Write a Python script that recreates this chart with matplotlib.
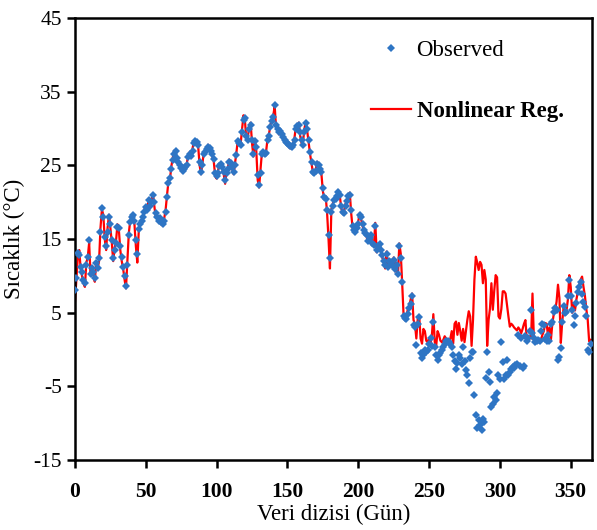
import matplotlib
matplotlib.use("Agg")
import matplotlib.pyplot as plt
from matplotlib.lines import Line2D

plt.rcParams['font.family'] = ['Liberation Serif', 'DejaVu Serif']
plt.rcParams['axes.unicode_minus'] = False

observed = [
    8.1, 9.7, 13.1, 12.9, 11.2, 10.5, 9.5, 9.0, 11.5, 12.6,
    14.9, 10.3, 11.0, 10.5, 9.7, 11.7, 11.0, 12.4, 16.0, 19.2,
    18.0, 15.3, 14.0, 16.0, 18.0, 17.0, 14.9, 12.4, 13.5, 14.5,
    16.7, 16.5, 14.0, 12.5, 11.2, 10.0, 8.6, 11.5, 15.5, 17.3,
    18.0, 18.3, 17.5, 14.9, 13.0, 16.4, 17.0, 17.5, 18.0, 18.7,
    19.3, 19.0, 20.3, 19.5, 20.0, 21.0, 20.0, 18.5, 18.0, 17.5,
    17.8, 17.3, 17.0, 17.5, 18.7, 20.7, 22.6, 23.3, 24.5, 25.7,
    26.5, 27.0, 26.0, 25.5, 25.0, 24.6, 24.3, 24.5, 24.8, 25.0,
    26.2, 26.5, 26.3, 27.0, 28.0, 28.3, 28.2, 27.8, 25.5, 24.1,
    25.0, 26.5, 26.8, 27.2, 27.5, 27.3, 27.0, 26.5, 25.9, 23.9,
    23.5, 24.0, 24.9, 25.2, 24.8, 24.1, 23.0, 24.0, 24.5, 25.5,
    25.3, 24.8, 24.1, 25.0, 26.4, 28.3, 28.0, 27.8, 29.5, 31.2,
    31.4, 29.0, 28.5, 30.0, 30.5, 28.5, 26.6, 28.3, 27.5, 23.7,
    22.3, 24.0, 26.5, 26.8, 26.5, 26.7, 28.4, 29.0, 30.2, 31.0,
    31.5, 33.2, 30.5, 30.0, 29.5, 29.6, 29.2, 28.9, 28.5, 28.2,
    28.0, 27.7, 27.6, 27.5, 27.8, 28.5, 30.0, 30.3, 30.5, 29.5,
    28.5, 27.8, 29.5, 30.7, 30.0, 28.5, 26.8, 25.5, 24.1, 24.0,
    24.2, 25.2, 25.0, 24.5, 24.1, 21.9, 20.7, 20.5, 18.9, 15.5,
    12.4, 18.7, 19.5, 20.3, 20.5, 20.8, 21.4, 21.0, 19.5, 18.7,
    18.5, 19.5, 20.2, 20.8, 21.0, 19.0, 16.8, 16.2, 16.0, 16.5,
    17.1, 18.3, 18.0, 17.0, 16.2, 15.8, 15.5, 14.8, 15.2, 15.5,
    14.5, 14.2, 16.8, 13.5, 14.0, 14.3, 13.5, 12.8, 12.0, 11.5,
    13.0, 11.2, 12.0, 11.9, 11.5, 12.2, 10.9, 11.5, 10.3, 14.0,
    12.4, 9.2, 4.5, 4.3, 4.1, 4.8, 5.6, 6.2, 7.2, 3.3,
    3.0, 0.6, 3.5, 4.4, -0.5, -1.2, -0.8, -0.1, -0.3, -0.1,
    0.8, 1.6, 0.5, 3.8, 0.4, -0.8, -1.4, -0.8, -0.5, -0.1,
    0.3, 0.8, 1.1, 1.2, 1.0, 0.8, 0.4, -0.8, -1.6, -2.6,
    -1.8, -0.8, -1.2, -1.9, 0.4, -1.5, -2.8, -3.5, -4.5, -1.2,
    -0.3, -0.3, -6.2, -8.9, -10.7, -9.5, -10.2, -10.9, -9.4, -9.8,
    -3.9, -0.3, -3.0, -4.4, -7.8, -7.4, -6.4, -6.8, -5.9, -3.5,
    -4.0, 1.0, -1.7, -4.0, -3.5, -1.4, -3.5, -3.1, -2.6, -2.4,
    -2.5, -2.1, -2.0, 2.0, -2.3, 1.5, -2.5, -2.3, 1.8, 1.2,
    1.5, 2.5, 5.4, 2.3, 1.5, 1.0, 1.2, 1.3, 1.1, 2.5,
    3.5, 3.3, 1.4, 1.2, 2.0, 1.2, 3.5, 3.7, 5.1, 5.6,
    5.3, -1.4, -1.0, 0.2, 3.7, 5.9, 5.0, 5.1, 7.3, 9.4,
    7.3, 5.4, 3.3, 4.6, 6.3, 7.8, 8.5, 9.2, 7.5, 6.5,
    5.8, 4.6, -0.1, -0.3, 0.7,
]

nonlinear_reg = [
    6.5, 9.5, 12.5, 13.5, 11.0, 10.0, 9.0, 8.5, 11.8, 12.5,
    14.5, 10.0, 11.3, 10.2, 9.2, 12.0, 11.0, 12.0, 16.5, 19.0,
    18.3, 15.0, 13.5, 16.5, 18.3, 16.5, 14.5, 12.0, 13.8, 14.8,
    17.0, 16.2, 13.5, 12.0, 11.0, 9.5, 8.3, 12.0, 15.8, 17.5,
    18.2, 18.0, 17.0, 14.0, 11.8, 16.0, 17.2, 17.3, 18.2, 19.0,
    19.5, 18.8, 20.5, 19.2, 20.2, 21.2, 19.5, 18.0, 17.8, 17.8,
    18.0, 17.0, 16.8, 17.8, 19.0, 21.0, 22.8, 23.0, 24.8, 26.0,
    27.0, 26.8, 25.8, 25.2, 24.8, 24.3, 24.0, 24.8, 25.0, 25.3,
    26.5, 26.8, 26.0, 27.3, 28.3, 28.5, 28.0, 27.5, 25.0, 23.8,
    25.3, 26.8, 27.0, 27.0, 27.8, 27.0, 26.8, 26.2, 25.5, 23.5,
    23.2, 24.3, 25.2, 25.0, 24.5, 23.8, 22.5, 24.3, 24.8, 25.8,
    25.0, 24.5, 23.8, 25.3, 26.8, 28.5, 27.8, 28.0, 30.0, 31.8,
    31.0, 28.5, 28.8, 30.3, 30.8, 28.0, 26.2, 28.6, 27.0, 23.0,
    22.0, 24.5, 26.8, 26.5, 26.3, 27.0, 28.7, 29.3, 30.5, 31.2,
    31.8, 33.0, 30.0, 30.3, 29.2, 29.8, 29.0, 28.7, 28.3, 28.0,
    27.8, 27.5, 27.3, 27.7, 28.0, 28.8, 30.3, 30.0, 30.8, 29.0,
    28.0, 28.2, 30.0, 31.0, 29.6, 28.0, 26.5, 25.2, 24.0, 24.2,
    24.5, 25.5, 24.8, 24.3, 23.8, 21.5, 20.5, 20.8, 18.5, 15.0,
    11.0, 19.0, 19.8, 20.5, 20.3, 21.0, 21.6, 20.8, 19.2, 18.5,
    18.8, 19.8, 20.4, 21.0, 21.3, 18.5, 16.5, 16.0, 16.2, 16.8,
    17.4, 18.5, 17.7, 16.8, 16.0, 16.0, 15.2, 14.5, 15.5, 15.8,
    14.2, 14.0, 17.2, 13.2, 14.2, 14.5, 13.2, 12.5, 11.8, 11.0,
    13.3, 11.0, 12.2, 12.0, 11.3, 12.5, 10.6, 11.8, 10.0, 14.4,
    13.0, 9.0, 4.6, 4.0, 4.5, 5.5, 6.0, 6.8, 7.6, 4.0,
    3.5, 1.5, 4.2, 4.6, 1.5, 0.8, 2.8, 2.5, 1.2, 1.0,
    1.5, 0.8, 2.0, 4.8, 1.0, 0.5, 2.5, 2.0, 1.2, 1.0,
    1.3, 1.8, 1.5, 1.2, 0.8, 1.5, 2.5, 0.8, 3.5, 3.8,
    2.0, 3.6, 2.5, 1.2, 2.8, 1.0, 2.5, 4.0, 5.2, 4.5,
    0.5, 4.0, 9.5, 12.6, 11.8, 10.8, 11.9, 11.5, 9.0, 10.8,
    9.5, 0.5, 4.0, 5.6, 9.0, 5.4, 8.0, 10.1, 9.8, 4.5,
    4.2, 5.5, 7.9, 7.9, 7.6, 6.0, 4.5, 3.1, 3.5, 3.3,
    3.0, 2.8, 2.6, 3.0, 2.7, 2.2, 2.8, 3.5, 4.0, 1.3,
    1.7, 1.8, 1.5, 7.6, 1.3, 1.2, 1.0, 1.2, 1.4, 1.3,
    2.0, 2.5, 3.6, 3.5, 1.8, 3.0, 1.3, 3.5, 4.8, 5.3,
    6.5, 8.8, 7.0, 0.9, 3.8, 5.8, 5.0, 5.3, 6.8, 10.1,
    8.5, 5.0, 6.3, 5.3, 6.8, 7.8, 8.8, 9.5, 9.9, 8.5,
    7.3, 5.5, 4.0, 1.1, 1.3,
]

days = list(range(len(observed)))
x_ticks = [0, 50, 100, 150, 200, 250, 300, 350]
y_ticks = [-15, -5, 5, 15, 25, 35, 45]

fig = plt.figure(figsize=(5.97, 5.30), dpi=100)
ax = fig.add_axes([0.1256, 0.132, 0.866, 0.834])

ax.plot(days, nonlinear_reg, color='#FF0000', lw=1.6, zorder=2)
ax.plot(days, observed, linestyle='none', marker='D', markersize=4.5,
        color='#2E75C4', markeredgewidth=0, zorder=3)

ax.set_xlim(0, 365)
ax.set_ylim(-15, 45)
ax.set_xticks(x_ticks)
ax.set_yticks(y_ticks)
ax.tick_params(axis='both', direction='out', length=6, width=1.8, labelsize=15.5,
               top=False, right=False)
ax.tick_params(axis='x', pad=10)
for lab in ax.get_xticklabels():
    lab.set_fontweight('bold')
for sp in ax.spines.values():
    sp.set_linewidth(1.8)
    sp.set_color('black')

ax.set_xlabel('Veri dizisi (Gün)', fontsize=16.5, labelpad=1)
ax.set_ylabel('Sıcaklık (°C)', fontsize=16.5, labelpad=6)

h_obs = Line2D([], [], linestyle='none', marker='D', markersize=4.0,
               color='#2E75C4', markeredgewidth=0)
h_reg = Line2D([], [], color='#FF0000', lw=1.6)
leg = ax.legend([h_obs, h_reg], ['Observed', 'Nonlinear Reg.'], loc='upper left',
                bbox_to_anchor=(0.572, 0.95), frameon=False, fontsize=16.5,
                handlelength=1.75, handletextpad=0.25, labelspacing=1.75,
                borderpad=0, borderaxespad=0)
leg.get_texts()[1].set_fontweight('bold')

fig.savefig('out.png', dpi=100)
